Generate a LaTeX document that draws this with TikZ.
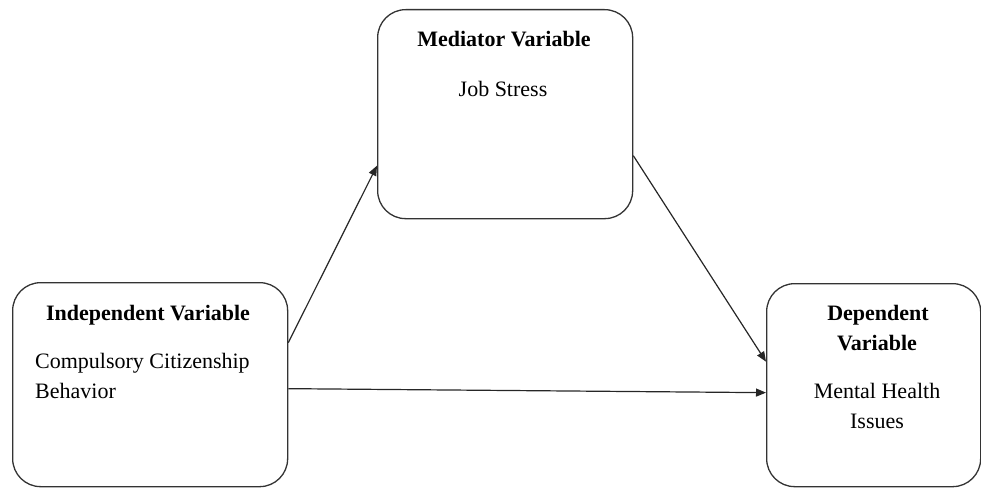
\documentclass[tikz,border=0pt]{standalone}
\usepackage{fontspec}
\setmainfont{Liberation Serif}
\usetikzlibrary{arrows.meta}
\begin{document}
\begin{tikzpicture}[x=1pt,y=-1pt,
  varbox/.style={draw=black!80, line width=1.3pt, rounded corners=28pt, minimum width=#1, inner sep=0pt, anchor=north west},
  head/.style={font=\fontsize{22}{30}\selectfont\bfseries, inner sep=0pt, anchor=base},
  body/.style={font=\fontsize{22}{30}\selectfont, inner sep=0pt, anchor=base},
  link/.style={draw=black!85, line width=1.2pt, -{Triangle[length=10pt,width=8pt]}}]
\useasboundingbox (0,0) rectangle (981,487);
\node[varbox=275pt, minimum height=204pt] (ind) at (12,282) {};
\node[varbox=255pt, minimum height=209pt] (med) at (377,9) {};
\node[varbox=214pt, minimum height=203pt] (dep) at (766,283) {};
% texts
\node[head] (indh) at (148,320) {Independent Variable};
\node[body, anchor=base west] (indb1) at (35,368) {Compulsory Citizenship};
\node[body, anchor=base west] (indb2) at (35,398) {Behavior};
\node[head] (medh) at (504,47) {Mediator Variable};
\node[body] (medb) at (503,96) {Job Stress};
\node[head] (deph1) at (878,320) {Dependent};
\node[head] (deph2) at (877,350) {Variable};
\node[body] (depb1) at (877,398) {Mental Health};
\node[body] (depb2) at (877,428) {Issues};
% connectors
\draw[link] ([yshift=42pt]ind.east) -- ([yshift=-51.5pt]med.west);
\draw[link] ([yshift=-41.5pt]med.east) -- ([yshift=23.5pt]dep.west);
\draw[link] ([yshift=-4pt]ind.east) -- ([yshift=-7.5pt]dep.west);
\end{tikzpicture}
\end{document}
